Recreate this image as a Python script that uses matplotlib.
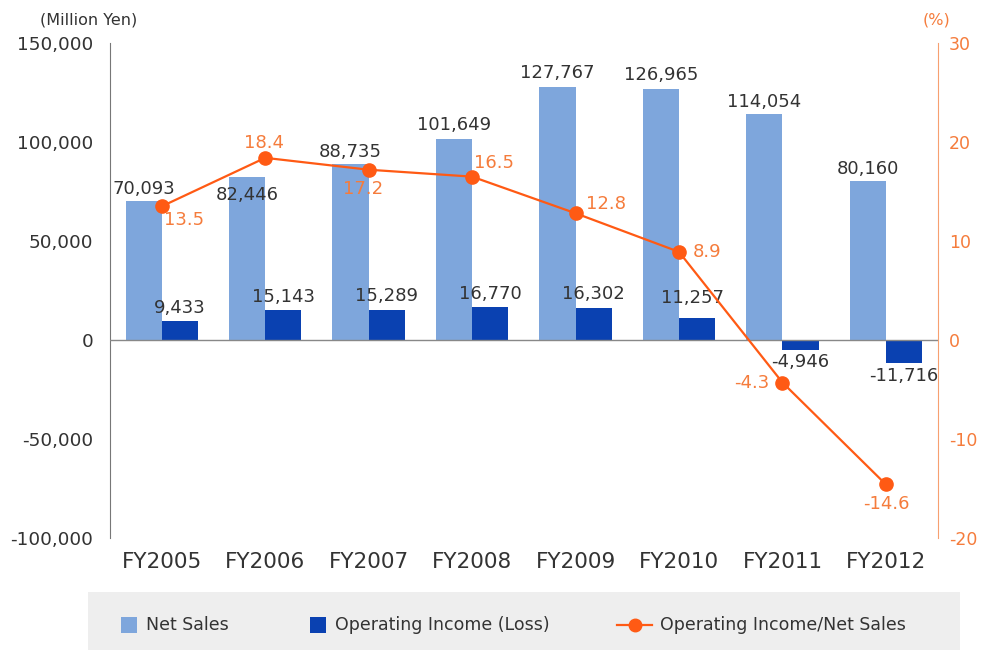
import matplotlib
matplotlib.use("Agg")
import matplotlib.pyplot as plt
from matplotlib.patches import Rectangle
from matplotlib.lines import Line2D
import numpy as np

plt.rcParams['font.family'] = ['DejaVu Sans']
plt.rcParams['axes.unicode_minus'] = False

categories = ["FY2005", "FY2006", "FY2007", "FY2008", "FY2009", "FY2010", "FY2011", "FY2012"]
net_sales = [70093, 82446, 88735, 101649, 127767, 126965, 114054, 80160]
op_income = [9433, 15143, 15289, 16770, 16302, 11257, -4946, -11716]
op_ratio = [13.5, 18.4, 17.2, 16.5, 12.8, 8.9, -4.3, -14.6]
left_ticks = [-100000, -50000, 0, 50000, 100000, 150000]
right_ticks = [-20, -10, 0, 10, 20, 30]
legend_labels = ["Net Sales", "Operating Income (Loss)", "Operating Income/Net Sales"]

# label offsets (points), label centre relative to anchor
ns_off = [(0, 8.5), (0, -13), (0, 8.5), (0, 10), (0, 10), (0, 10), (0, 8.5), (0, 8.5)]
oi_off = [(0, 9.5), (0, 9.5), (0, 9.5), (0, 9.5), (0, 9.5), (-3, 14), (0, -9), (0, -9)]
r_off = [(16, -10), (-1, 11), (-4, -14), (16, 10), (22, 7), (20, 0), (-22, 0), (0, -14)]

C_NS = "#7ea6dc"
C_OI = "#0a41b1"
C_LINE = "#ff5a14"
C_RTXT = "#f57c3c"
C_TXT = "#333333"

W, H = 985, 652
fig = plt.figure(figsize=(W / 100, H / 100), dpi=100)
ax = fig.add_axes([0.1117, 0.175, 0.8402, 0.759])
ax2 = ax.twinx()

x = np.arange(len(categories))
w = 0.35
ax.bar(x - w / 2, net_sales, w, color=C_NS, zorder=2)
ax.bar(x + w / 2, op_income, w, color=C_OI, zorder=2)
ax.axhline(0, color="#888888", lw=1, zorder=3)

ax.set_ylim(-100000, 150000)
ax.set_xlim(-0.5, len(categories) - 0.5)
ax.set_yticks(left_ticks)
ax.set_yticklabels([f"{v:,}" for v in left_ticks])
ax.tick_params(axis='y', length=0, pad=12, labelsize=13.3, colors=C_TXT)
ax.set_xticks(x)
ax.set_xticklabels(categories)
ax.tick_params(axis='x', length=0, pad=10, labelsize=15.5, colors=C_TXT)
for s in ['top', 'right', 'bottom']:
    ax.spines[s].set_visible(False)
ax.spines['left'].set_color("#777777")

for i, v in enumerate(net_sales):
    ax.annotate(f"{v:,}", (x[i] - w / 2, v), xytext=ns_off[i], textcoords='offset points',
                ha='center', va='center', fontsize=13, color=C_TXT, zorder=5)
for i, v in enumerate(op_income):
    ax.annotate(f"{v:,}", (x[i] + w / 2, v), xytext=oi_off[i], textcoords='offset points',
                ha='center', va='center', fontsize=13, color=C_TXT, zorder=5)

ax2.plot(x, op_ratio, color=C_LINE, lw=1.6, marker='o', ms=9.5, zorder=4)
ax2.set_ylim(-20, 30)
ax2.set_yticks(right_ticks)
ax2.tick_params(axis='y', length=0, pad=8, labelsize=12.5, colors=C_RTXT)
for s in ['top', 'left', 'bottom']:
    ax2.spines[s].set_visible(False)
ax2.spines['right'].set_color("#f7a070")
for i, v in enumerate(op_ratio):
    ax2.annotate(f"{v}", (x[i], v), xytext=r_off[i], textcoords='offset points',
                 ha='center', va='center', fontsize=13, color=C_RTXT, zorder=5)

fig.text(0.041, 0.970, "(Million Yen)", fontsize=11.5, color=C_TXT, ha='left', va='center')
fig.text(0.951, 0.970, "(%)", fontsize=11.5, color=C_RTXT, ha='center', va='center')

# legend drawn manually in figure pixel coordinates
def fx(px):
    return px / W

def fy(py):
    return 1 - py / H

fig.patches.append(Rectangle((fx(88), fy(650)), fx(960) - fx(88), fy(592) - fy(650),
                             transform=fig.transFigure, facecolor="#eeeeee", edgecolor='none', zorder=0))
ly = 625
fig.patches.append(Rectangle((fx(121), fy(633)), fx(137) - fx(121), fy(617) - fy(633),
                             transform=fig.transFigure, facecolor=C_NS, edgecolor='none'))
fig.text(fx(146), fy(ly), legend_labels[0], fontsize=12.5, color=C_TXT, ha='left', va='center')
fig.patches.append(Rectangle((fx(310), fy(633)), fx(326) - fx(310), fy(617) - fy(633),
                             transform=fig.transFigure, facecolor=C_OI, edgecolor='none'))
fig.text(fx(335), fy(ly), legend_labels[1], fontsize=12.5, color=C_TXT, ha='left', va='center')
fig.lines.append(Line2D([fx(617), fx(652)], [fy(ly), fy(ly)], transform=fig.transFigure,
                        color=C_LINE, lw=1.6))
fig.lines.append(Line2D([fx(634.5)], [fy(ly)], transform=fig.transFigure,
                        color=C_LINE, marker='o', ms=9, lw=0))
fig.text(fx(660), fy(ly), legend_labels[2], fontsize=12.5, color=C_TXT, ha='left', va='center')

fig.savefig("out.png", dpi=100)
